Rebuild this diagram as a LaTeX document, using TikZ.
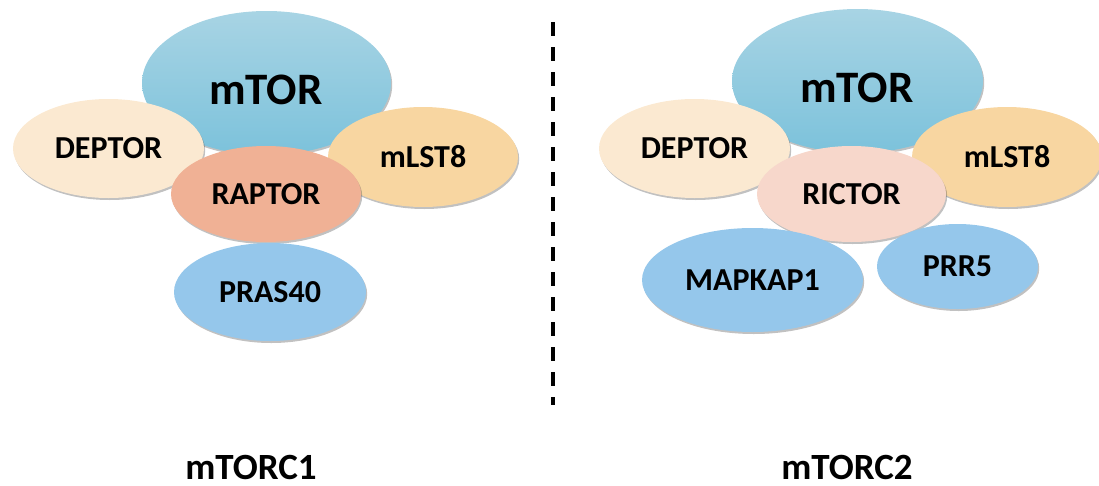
\documentclass[tikz,border=0pt]{standalone}
\usepackage{fontspec}
\setmainfont{Carlito}
\usetikzlibrary{shapes.geometric,shadows}
\definecolor{mtorTop}{HTML}{A8D4E4}
\definecolor{mtorBot}{HTML}{7CC2DB}
\definecolor{deptorC}{HTML}{FBE9D1}
\definecolor{mlstC}{HTML}{F8D6A1}
\definecolor{raptorC}{HTML}{F0B195}
\definecolor{rictorC}{HTML}{F7D7CB}
\definecolor{blueC}{HTML}{95C7EB}
\tikzset{
  prot/.style={ellipse, inner sep=0pt, font=\bfseries\fontsize{32}{32}\selectfont,
    drop shadow={shadow xshift=1.2pt, shadow yshift=-2pt, opacity=0.35, fill=black!70}},
  core/.style={prot, shading=axis, top color=mtorTop, bottom color=mtorBot},
  coretext/.style={inner sep=0pt, font=\bfseries\fontsize{45}{45}\selectfont},
  cplx/.style={inner sep=0pt, font=\bfseries\fontsize{37}{37}\selectfont},
}
\begin{document}
\begin{tikzpicture}[x=1pt,y=-1pt]
\useasboundingbox (0,0) rectangle (1099,485);

% mTORC1
\node[core, minimum width=249pt, minimum height=144pt] (mtorA) at (266.5,83) {};
\node[coretext] (mtorAlbl) at (266,90) {mTOR};
\node[prot, fill=deptorC, minimum width=191pt, minimum height=99pt] (deptorA) at (108.5,148.5) {DEPTOR};
\node[prot, fill=mlstC, minimum width=190pt, minimum height=100pt] (mlstA) at (423,157) {mLST8};
\node[prot, fill=raptorC, minimum width=190pt, minimum height=96pt] (raptor) at (266,194) {RAPTOR};
\node[prot, fill=blueC, minimum width=192pt, minimum height=98pt] (pras) at (270,292) {PRAS40};

% mTORC2
\node[core, minimum width=251pt, minimum height=144pt] (mtorB) at (857.5,81) {};
\node[coretext] (mtorBlbl) at (857,88) {mTOR};
\node[prot, fill=deptorC, minimum width=191pt, minimum height=99pt] (deptorB) at (694.5,148.5) {DEPTOR};
\node[prot, fill=mlstC, minimum width=190pt, minimum height=100pt] (mlstB) at (1007,157) {mLST8};
\node[prot, fill=rictorC, minimum width=189pt, minimum height=96pt] (rictor) at (851.5,194) {RICTOR};
\node[prot, fill=blueC, minimum width=221pt, minimum height=104pt] (mapkap) at (752.5,280) {MAPKAP1};
\node[prot, fill=blueC, minimum width=161pt, minimum height=85pt] (prr) at (957.5,266.5) {PRR5};

% separator
\coordinate (sepTop) at (553,22);
\coordinate (sepBot) at (553,405);
\draw[line width=3.5pt, dash pattern=on 14pt off 11pt] (sepTop) -- (sepBot);

% complex names
\node[cplx] (c1) at (251,467) {mTORC1};
\node[cplx] (c2) at (847,467) {mTORC2};
\end{tikzpicture}
\end{document}
